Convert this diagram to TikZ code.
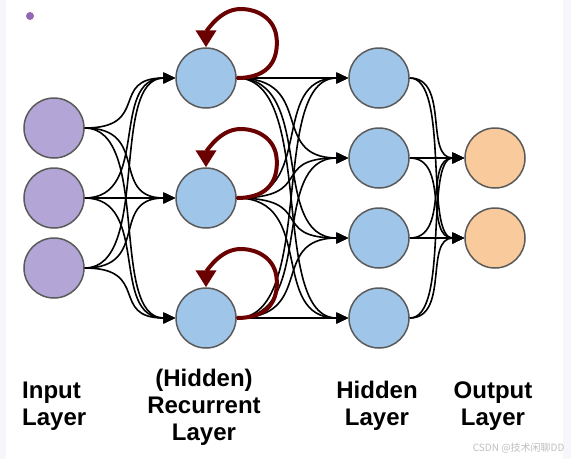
\documentclass[tikz,border=0pt]{standalone}
\usepackage{fontspec}
\setmainfont{Liberation Sans}
\newfontfamily\cjkfont{Noto Sans CJK SC}
\usetikzlibrary{arrows.meta}
\definecolor{inpc}{HTML}{B3A6D6}
\definecolor{hidc}{HTML}{9FC5E8}
\definecolor{outc}{HTML}{F9CB9C}
\definecolor{bordc}{HTML}{5A5A5A}
\definecolor{loopc}{HTML}{6B0000}
\definecolor{dotc}{HTML}{9467B5}
\definecolor{stripc}{HTML}{F5F7FA}
\tikzset{
  neuron/.style={circle, draw=bordc, line width=1.5pt, minimum size=60pt, inner sep=0pt},
  inneuron/.style={neuron, fill=inpc},
  hidneuron/.style={neuron, fill=hidc},
  outneuron/.style={neuron, fill=outc},
  conn/.style={draw=black, line width=1.6pt, -{Triangle[length=12pt,width=11pt]}},
  selfloop/.style={draw=loopc, line width=4pt, -{Triangle[length=17pt,width=20pt]}},
  lbl/.style={font=\bfseries\fontsize{24}{27}\selectfont, align=center, text=black},
  wm/.style={font=\cjkfont\fontsize{10}{12}\selectfont, text=black!25, anchor=east}
}
\begin{document}
\begin{tikzpicture}[x=1pt, y=-1pt]
\useasboundingbox (0,0) rectangle (571,459);
\fill[white] (0,0) rectangle (571,459);
\fill[stripc] (0,0) rectangle (6,459);
\fill[stripc] (563,0) rectangle (571,459);
\fill[dotc] (30,16) circle (4pt);

% input layer
\node[inneuron] (i1) at (54,128) {};
\node[inneuron] (i2) at (54,198) {};
\node[inneuron] (i3) at (54,268) {};
% recurrent layer
\node[hidneuron] (r1) at (206,78) {};
\node[hidneuron] (r2) at (206,198) {};
\node[hidneuron] (r3) at (206,318) {};
% hidden layer
\node[hidneuron] (h1) at (379,78) {};
\node[hidneuron] (h2) at (379,158) {};
\node[hidneuron] (h3) at (379,238) {};
\node[hidneuron] (h4) at (379,318) {};
% output layer
\node[outneuron] (o1) at (495,158) {};
\node[outneuron] (o2) at (495,238) {};

% connections
\foreach \a in {i1,i2,i3}{
  \foreach \b in {r1,r2,r3}{
    \draw[conn] (\a.east) .. controls +(66,0) and +(-66,0) .. (\b.west);
  }
}
\foreach \a in {r1,r2,r3}{
  \foreach \b in {h1,h2,h3,h4}{
    \draw[conn] (\a.east) .. controls +(80,0) and +(-80,0) .. (\b.west);
  }
}
\foreach \a in {h1,h2,h3,h4}{
  \foreach \b in {o1,o2}{
    \draw[conn] (\a.east) .. controls +(40,0) and +(-40,0) .. (\b.west);
  }
}

% self loops
\foreach \r in {r1,r2,r3}{
  \draw[selfloop] (\r.east) .. controls +(34,0) and +(1,18) .. ++(40,-38)
     .. controls +(-1,-22) and +(16,0) .. ++(-36,-31)
     .. controls +(-22,0) and +(0,-14) .. (\r.north);
}

% labels
\node[lbl, align=left, anchor=west, inner sep=0pt] (t1) at (22,406) {Input\\Layer};
\node[lbl] (t2) at (204,407) {(Hidden)\\Recurrent\\Layer};
\node[lbl] (t3) at (377,406) {Hidden\\Layer};
\node[lbl] (t4) at (493,406) {Output\\Layer};
\node[wm] (w) at (568,448) {CSDN @技术闲聊DD};
\end{tikzpicture}
\end{document}
